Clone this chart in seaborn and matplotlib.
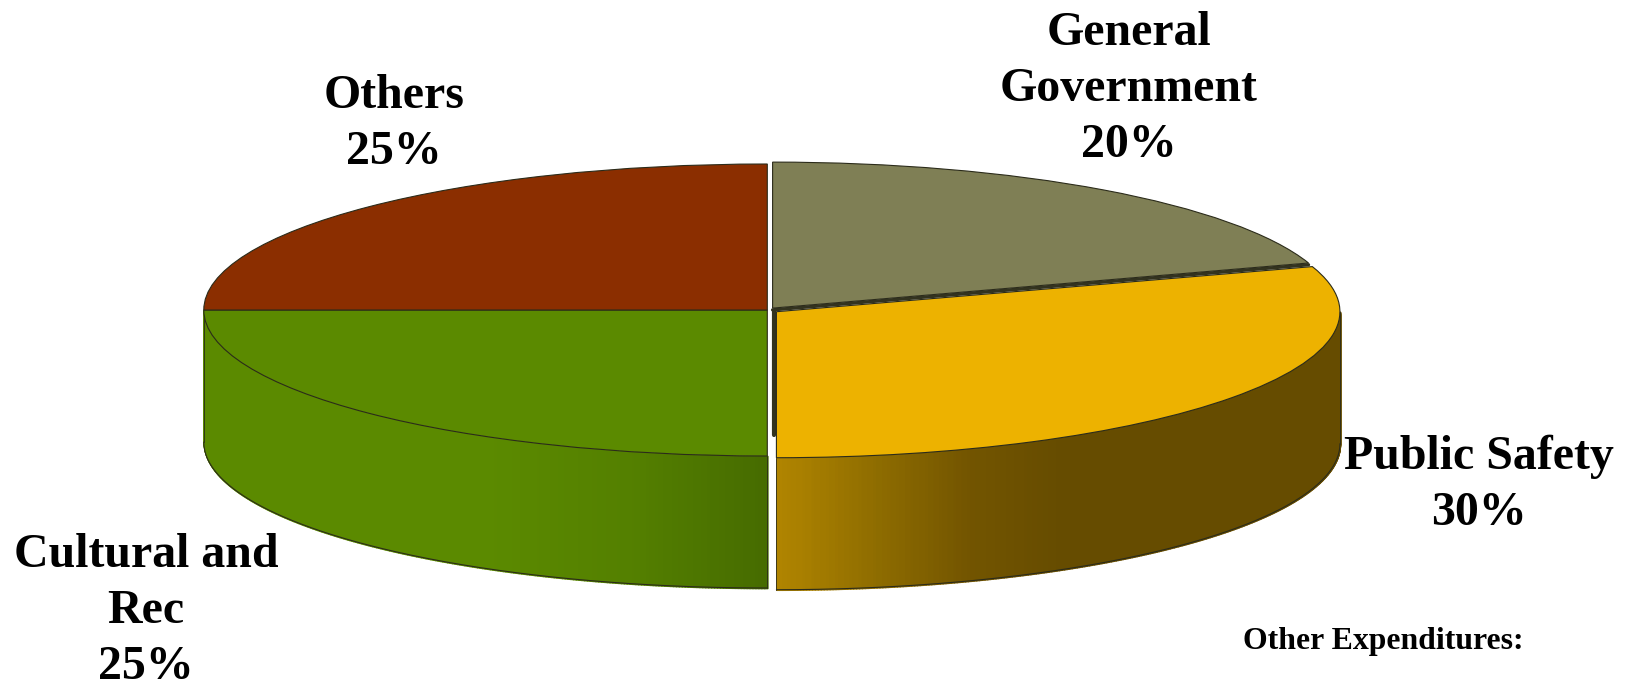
import numpy as np
import matplotlib
matplotlib.use('Agg')
import matplotlib.pyplot as plt
import seaborn as sns

# Data
labels = ['General\nGovernment', 'Public Safety', 'Cultural and\nRec', 'Others']
values = [20, 30, 25, 25]
top_colors = ['#7F7F55', '#EDB200', '#5B8A00', '#8B2E00']
footer = 'Other Expenditures:'

sns.set_theme(style='white')
plt.rcParams['font.family'] = ['Liberation Serif', 'DejaVu Serif']

W, H = 1633, 684
fig = plt.figure(figsize=(W / 100, H / 100), dpi=100)
ax = fig.add_axes([0, 0, 1, 1])

# pie geometry in pixels
rx, ry, cx, cy, depth = 563.5, 146, 767.3, 310, 132 / 146
explode = [0.016, 0.02, 0, 0]
edge = '#2b2b1a'

ax.pie(values, colors=top_colors, startangle=90, counterclock=False, explode=explode,
       wedgeprops={'edgecolor': edge, 'linewidth': 0.8, 'zorder': 5})
ax.set_aspect('auto')
ax.set_xlim(-cx / rx, (W - cx) / rx)
ax.set_ylim(-(H - cy) / ry, cy / ry)
ax.axis('off')

# Side walls with shading from left to right
wall_stops = {
    1: ['#B08400', '#8F6D00', '#735500', '#664C00', '#664C00', '#664C00', '#664C00'],
    2: ['#5B8A00', '#5B8A00', '#5B8A00', '#548000', '#466B00'],
}
starts = 90 - np.cumsum([0] + values[:-1]) * 3.6
for i, stops in wall_stops.items():
    t_start = starts[i]
    t_end = t_start - values[i] * 3.6
    t_hi = min(t_start, 0) if i == 1 else t_start
    t_lo = t_end
    mid = np.radians((t_start + t_end) / 2)
    ox, oy = explode[i] * np.cos(mid), explode[i] * np.sin(mid)
    th = np.radians(np.linspace(t_lo, t_hi, 300))
    xs, ys = np.cos(th) + ox, np.sin(th) + oy
    pal = sns.blend_palette(stops, n_colors=120)
    frac = (xs - xs.min()) / (xs.max() - xs.min())
    for j in range(len(th) - 1):
        c = pal[int(frac[j] * 119)]
        # no antialiasing, otherwise the strips show seams
        ax.fill_between(xs[j:j + 2], ys[j:j + 2], ys[j:j + 2] - depth, color=c,
                        edgecolor=c, linewidth=1.2, antialiased=False, zorder=1)
    ax.plot(xs, ys - depth, color=edge, linewidth=0.8, zorder=2)
    ax.plot([xs[0], xs[0]], [ys[0], ys[0] - depth], color=edge, linewidth=0.6, zorder=2)
    ax.plot([xs[-1], xs[-1]], [ys[-1], ys[-1] - depth], color=edge, linewidth=0.6, zorder=2)

# dark cut faces of the separated slices
gov_mid = np.radians(starts[0] - values[0] * 1.8)
gx, gy = explode[0] * np.cos(gov_mid), explode[0] * np.sin(gov_mid)
cut = np.radians(starts[1])
ax.plot([gx, gx + np.cos(cut)], [gy - 0.012, gy + np.sin(cut) - 0.012], color='#33331f', linewidth=2.4, zorder=4)
ax.plot([gx + 0.002, gx + 0.002], [gy - 0.02, gy - depth * 0.96], color='#33331f', linewidth=3, zorder=4)

# Labels
label_pos = [(1129, 89), (1479, 485), (146, 611), (394, 124)]
for label, v, (px, py) in zip(labels, values, label_pos):
    fig.text(px / W, 1 - py / H, f'{label}\n{v}%', ha='center', va='center',
             fontsize=34.5, fontweight='bold', color='black', linespacing=1.36)
fig.text(1383 / W, 1 - 642 / H, footer, ha='center', va='center', fontsize=22.9,
         fontweight='bold', color='black')

fig.savefig('out.png', dpi=100)
